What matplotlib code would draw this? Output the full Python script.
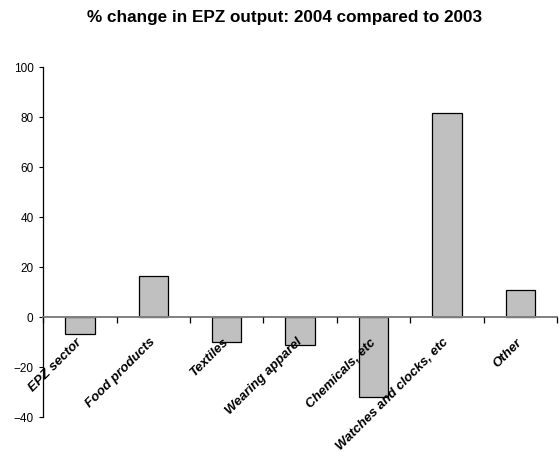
import matplotlib
matplotlib.use("Agg")
import matplotlib.pyplot as plt
import numpy as np

plt.rcParams['font.family'] = ['Liberation Sans', 'DejaVu Sans']

sectors = ["EPZ sector", "Food products", "Textiles", "Wearing apparel",
           "Chemicals, etc", "Watches and clocks, etc", "Other"]
pct_change = [-6.8, 16.2, -10.2, -11.2, -32.0, 81.5, 10.7]
y_ticks = [-40, -20, 0, 20, 40, 60, 80, 100]

fig = plt.figure(figsize=(5.6, 4.64), dpi=100)
ax = fig.add_axes([0.0773, 0.0998, 0.9173, 0.7547])

x = np.arange(len(sectors)) + 0.5
ax.bar(x, pct_change, width=0.4, color="#C0C0C0", edgecolor="black", linewidth=0.9, zorder=1)

ax.set_xlim(0, len(sectors))
ax.set_ylim(-40, 100)
ax.set_yticks(y_ticks)
ax.tick_params(axis="y", labelsize=8.5, length=3, width=0.8, pad=4, direction="out")

for s in ["top", "right"]:
    ax.spines[s].set_visible(False)
ax.spines["left"].set_linewidth(0.9)
ax.spines["bottom"].set_position(("data", 0))
ax.spines["bottom"].set_color("#808080")
ax.spines["bottom"].set_linewidth(1.4)
ax.spines["bottom"].set_zorder(3)

# category boundary ticks (minor), labels on centres (major)
ax.set_xticks(np.arange(len(sectors) + 1), minor=True)
ax.set_xticks(x)
ax.set_xticklabels(sectors, rotation=45, ha="right", va="center",
                   rotation_mode="anchor", fontsize=9.5, fontweight="bold", fontstyle="italic")
ax.tick_params(axis="x", which="major", length=0, pad=16.5)
ax.tick_params(axis="x", which="minor", length=4, width=0.9, color="black", direction="out")
ax.xaxis.set_zorder(4)

fig.text(0.508, 0.978, "% change in EPZ output: 2004 compared to 2003", ha="center", va="top",
         fontsize=12.3, fontweight="bold")

fig.savefig("out.png", dpi=100)
